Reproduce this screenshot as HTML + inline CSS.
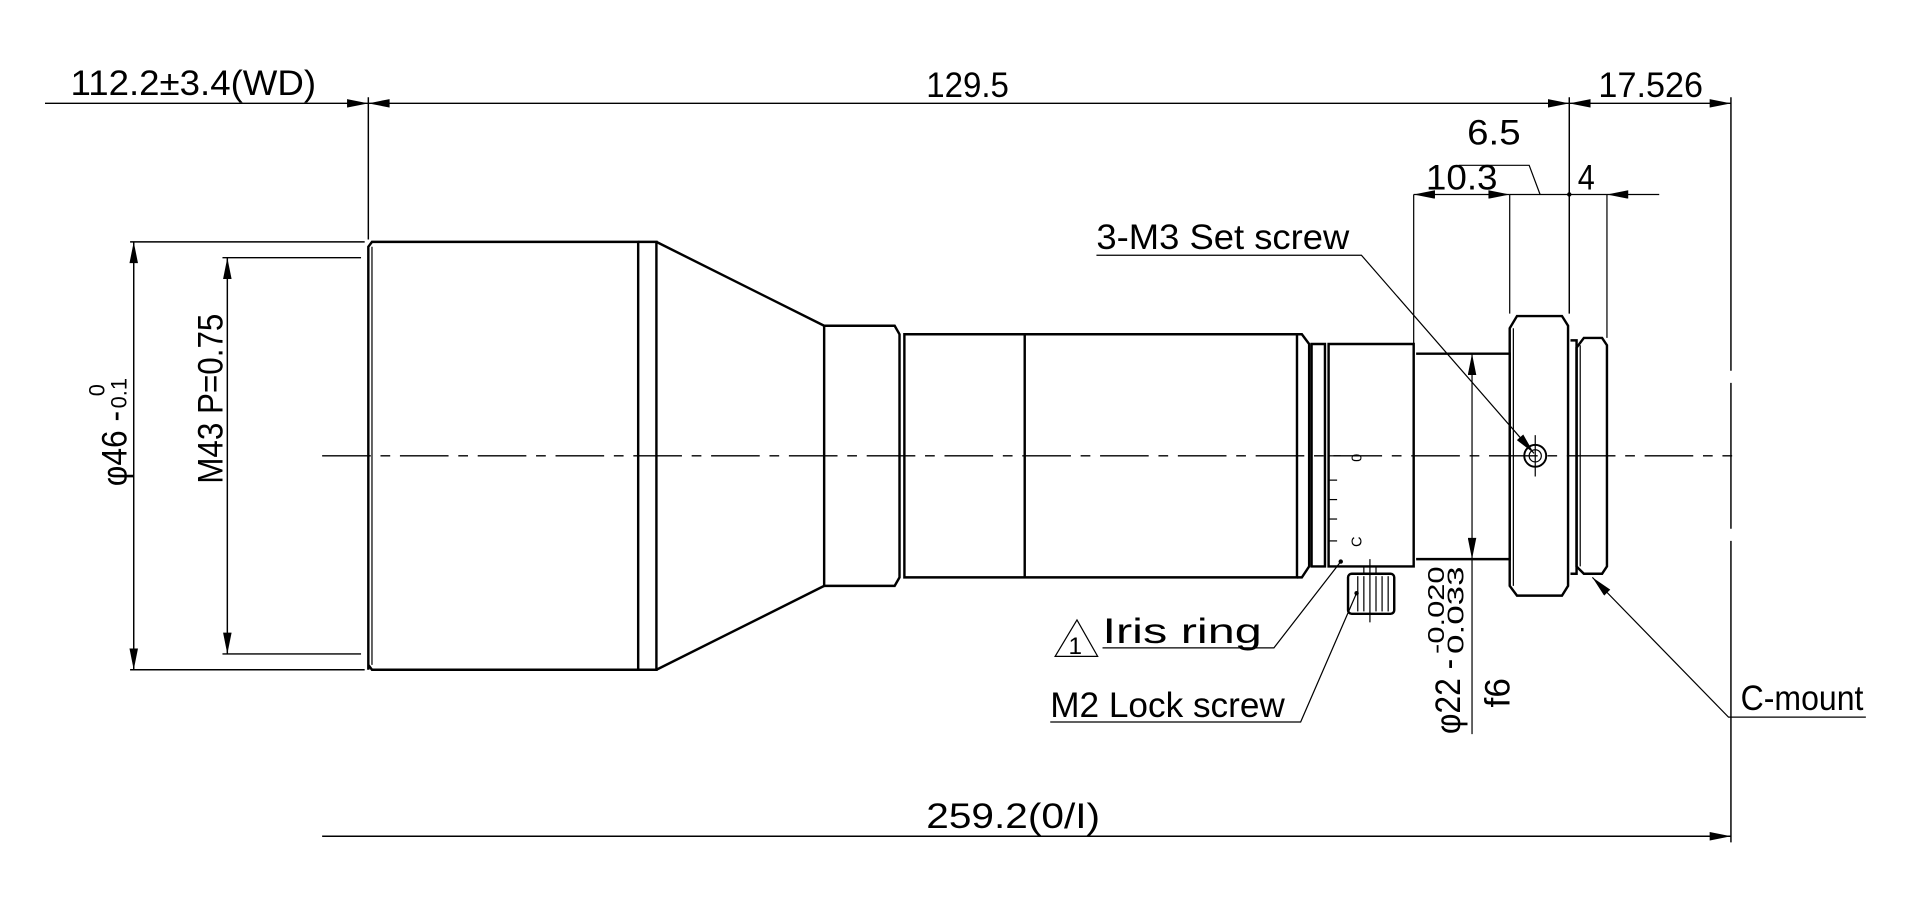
<!DOCTYPE html>
<html><head><meta charset="utf-8"><style>html,body{margin:0;padding:0;background:#fff}svg{display:block}</style></head><body>
<svg width="1906" height="908" viewBox="0 0 1568 747" xmlns="http://www.w3.org/2000/svg" font-family="Liberation Sans, sans-serif">
<defs>
<marker id="a" viewBox="0 0 10 4" refX="10" refY="2" markerWidth="22" markerHeight="7" markerUnits="userSpaceOnUse" orient="auto-start-reverse"><path d="M0,0L10,2L0,4z" fill="#000"/></marker>
</defs>
<g stroke="#000" fill="none" stroke-width="1.2">
<line x1="37" y1="85" x2="303" y2="85" marker-end="url(#a)"/>
<line x1="303" y1="85" x2="1291" y2="85" marker-start="url(#a)" marker-end="url(#a)"/>
<line x1="1291" y1="85" x2="1424" y2="85" marker-start="url(#a)" marker-end="url(#a)"/>
<line x1="303" y1="80" x2="303" y2="197"/>
<line x1="1291" y1="80" x2="1291" y2="258"/>
<line x1="1424" y1="80" x2="1424" y2="305"/>
<line x1="1424" y1="315" x2="1424" y2="435"/>
<line x1="1424" y1="445" x2="1424" y2="693"/>
<line x1="265" y1="688" x2="1424" y2="688" marker-end="url(#a)"/>
<line x1="107" y1="199" x2="300" y2="199"/><line x1="107" y1="551" x2="300" y2="551"/>
<line x1="110" y1="199" x2="110" y2="551" marker-start="url(#a)" marker-end="url(#a)"/>
<line x1="183" y1="212" x2="297" y2="212"/><line x1="183" y1="538" x2="297" y2="538"/>
<line x1="187" y1="212" x2="187" y2="538" marker-start="url(#a)" marker-end="url(#a)"/>
<line x1="265" y1="375" x2="1425" y2="375" stroke-dasharray="40,8,8,8"/>
</g>
<g stroke="#000" fill="none" stroke-width="2">
<path d="M303,551 L303,203 L306,199 L525,199 L525,551 L306,551 L303,547"/>
<path d="M525,199 L540,199 L540,551 L525,551"/>
<path d="M540,199 L678,268 M540,551 L678,482"/>
<path d="M678,268 L736,268 L740,275 L740,475 L736,482 L678,482 Z"/>
<path d="M744,275 L1067,275 L1067,475 L744,475 Z"/>
<line x1="843" y1="275" x2="843" y2="475"/>
<path d="M1067,275 L1071,275 L1077,283 L1077,466 L1071,475 L1067,475"/>
<path d="M1079,283 L1090,283 L1090,466 L1079,466 Z"/>
<path d="M1093,283 L1163,283 L1163,466 L1093,466 Z"/>
<path d="M1165,291 L1242,291 L1242,460 L1165,460"/>
<path d="M1242,270 L1248,260 L1285,260 L1290,268 L1290,482 L1285,490 L1248,490 L1242,482 Z"/>
<path d="M1292,280 L1297,280 L1297,472 L1292,472"/>
<path d="M1297,286 L1303,278 L1318,278 L1322,284 L1322,466 L1318,472 L1303,472 L1297,466 Z"/>
<rect x="1109" y="472" width="38" height="33" rx="3"/>
</g>
<g stroke="#000" fill="none" stroke-width="1">
<line x1="306" y1="203" x2="306" y2="547"/>
<line x1="1245" y1="270" x2="1245" y2="482"/>
<line x1="1300" y1="284" x2="1300" y2="466"/>
<line x1="1117" y1="474" x2="1117" y2="503"/><line x1="1122" y1="474" x2="1122" y2="503"/><line x1="1132" y1="474" x2="1132" y2="503"/><line x1="1137" y1="474" x2="1137" y2="503"/><line x1="1142" y1="474" x2="1142" y2="503"/>
<line x1="1127" y1="460" x2="1127" y2="512"/>
<rect x="1122" y="466" width="10" height="6"/>
<line x1="1093" y1="375" x2="1103" y2="375"/><line x1="1093" y1="395" x2="1100" y2="395"/><line x1="1093" y1="411" x2="1100" y2="411"/><line x1="1093" y1="427" x2="1100" y2="427"/><line x1="1093" y1="445" x2="1100" y2="445"/>
<circle cx="1263" cy="375" r="9" stroke-width="1.6"/><circle cx="1263" cy="375" r="5"/>
<line x1="1263" y1="358" x2="1263" y2="392"/>
<line x1="1163" y1="160" x2="1163" y2="283"/>
<line x1="1242" y1="160" x2="1242" y2="258"/>
<line x1="1322" y1="160" x2="1322" y2="278"/>
<line x1="1163" y1="160" x2="1242" y2="160" marker-start="url(#a)" marker-end="url(#a)"/>
<line x1="1242" y1="160" x2="1322" y2="160"/>
<line x1="1365" y1="160" x2="1322" y2="160" marker-end="url(#a)"/>
<path d="M1200,136 L1258,136 L1267,160"/>
<line x1="1211" y1="291" x2="1211" y2="460" marker-start="url(#a)" marker-end="url(#a)"/>
<line x1="1211" y1="460" x2="1211" y2="604"/>
<path d="M902,210 L1120,210 L1262,373" marker-end="url(#a)"/>
<path d="M907,533 L1048,533 L1103,462"/>
<path d="M864,594 L1070,594 L1116,488"/>
<path d="M1535,590 L1422,590 L1310,475" marker-end="url(#a)"/>
<path d="M868,540 L886,510 L903,540 Z"/>
</g>
<circle cx="1291" cy="160" r="1.8"/>
<circle cx="1103" cy="462" r="1.8"/>
<circle cx="1116" cy="488" r="1.8"/>
<g font-size="29" fill="#000" style="font-family:'Liberation Sans Narrow','Liberation Sans',sans-serif">
<text x="58" y="78" textLength="202" lengthAdjust="spacingAndGlyphs">112.2±3.4(WD)</text>
<text x="762" y="80" textLength="68" lengthAdjust="spacingAndGlyphs">129.5</text>
<text x="1315" y="80" textLength="86" lengthAdjust="spacingAndGlyphs">17.526</text>
<text x="1207" y="119" textLength="44" lengthAdjust="spacingAndGlyphs">6.5</text>
<text x="1173" y="156" textLength="59" lengthAdjust="spacingAndGlyphs">10.3</text>
<text x="1298" y="156" textLength="14" lengthAdjust="spacingAndGlyphs">4</text>
<text x="902" y="205" textLength="208" lengthAdjust="spacingAndGlyphs">3-M3 Set screw</text>
<text x="907" y="529" textLength="131" lengthAdjust="spacingAndGlyphs">Iris ring</text>
<text x="864" y="590" textLength="193" lengthAdjust="spacingAndGlyphs">M2 Lock screw</text>
<text x="1432" y="584" textLength="101" lengthAdjust="spacingAndGlyphs">C-mount</text>
<text x="762" y="681" textLength="143" lengthAdjust="spacingAndGlyphs">259.2(0/I)</text>
<text x="879" y="538" font-size="20">1</text>
<text transform="translate(104,400) rotate(-90)" textLength="62" lengthAdjust="spacingAndGlyphs">φ46 -</text>
<text transform="translate(104,336) rotate(-90)" font-size="18">0.1</text>
<text transform="translate(86,326) rotate(-90)" font-size="18">0</text>
<text transform="translate(183,398) rotate(-90)" textLength="140" lengthAdjust="spacingAndGlyphs">M43 P=0.75</text>
<text transform="translate(1201,604) rotate(-90)" textLength="62" lengthAdjust="spacingAndGlyphs">φ22 -</text>
<text transform="translate(1204,538) rotate(-90)" font-size="19" textLength="72" lengthAdjust="spacingAndGlyphs">0.033</text>
<text transform="translate(1188,538) rotate(-90)" font-size="19" textLength="72" lengthAdjust="spacingAndGlyphs">-0.020</text>
<text transform="translate(1242,582) rotate(-90)">f6</text>
<text transform="translate(1120,380) rotate(-90)" font-size="12">0</text>
<text transform="translate(1120,450) rotate(-90)" font-size="12">C</text>
</g>
</svg>
</body></html>
